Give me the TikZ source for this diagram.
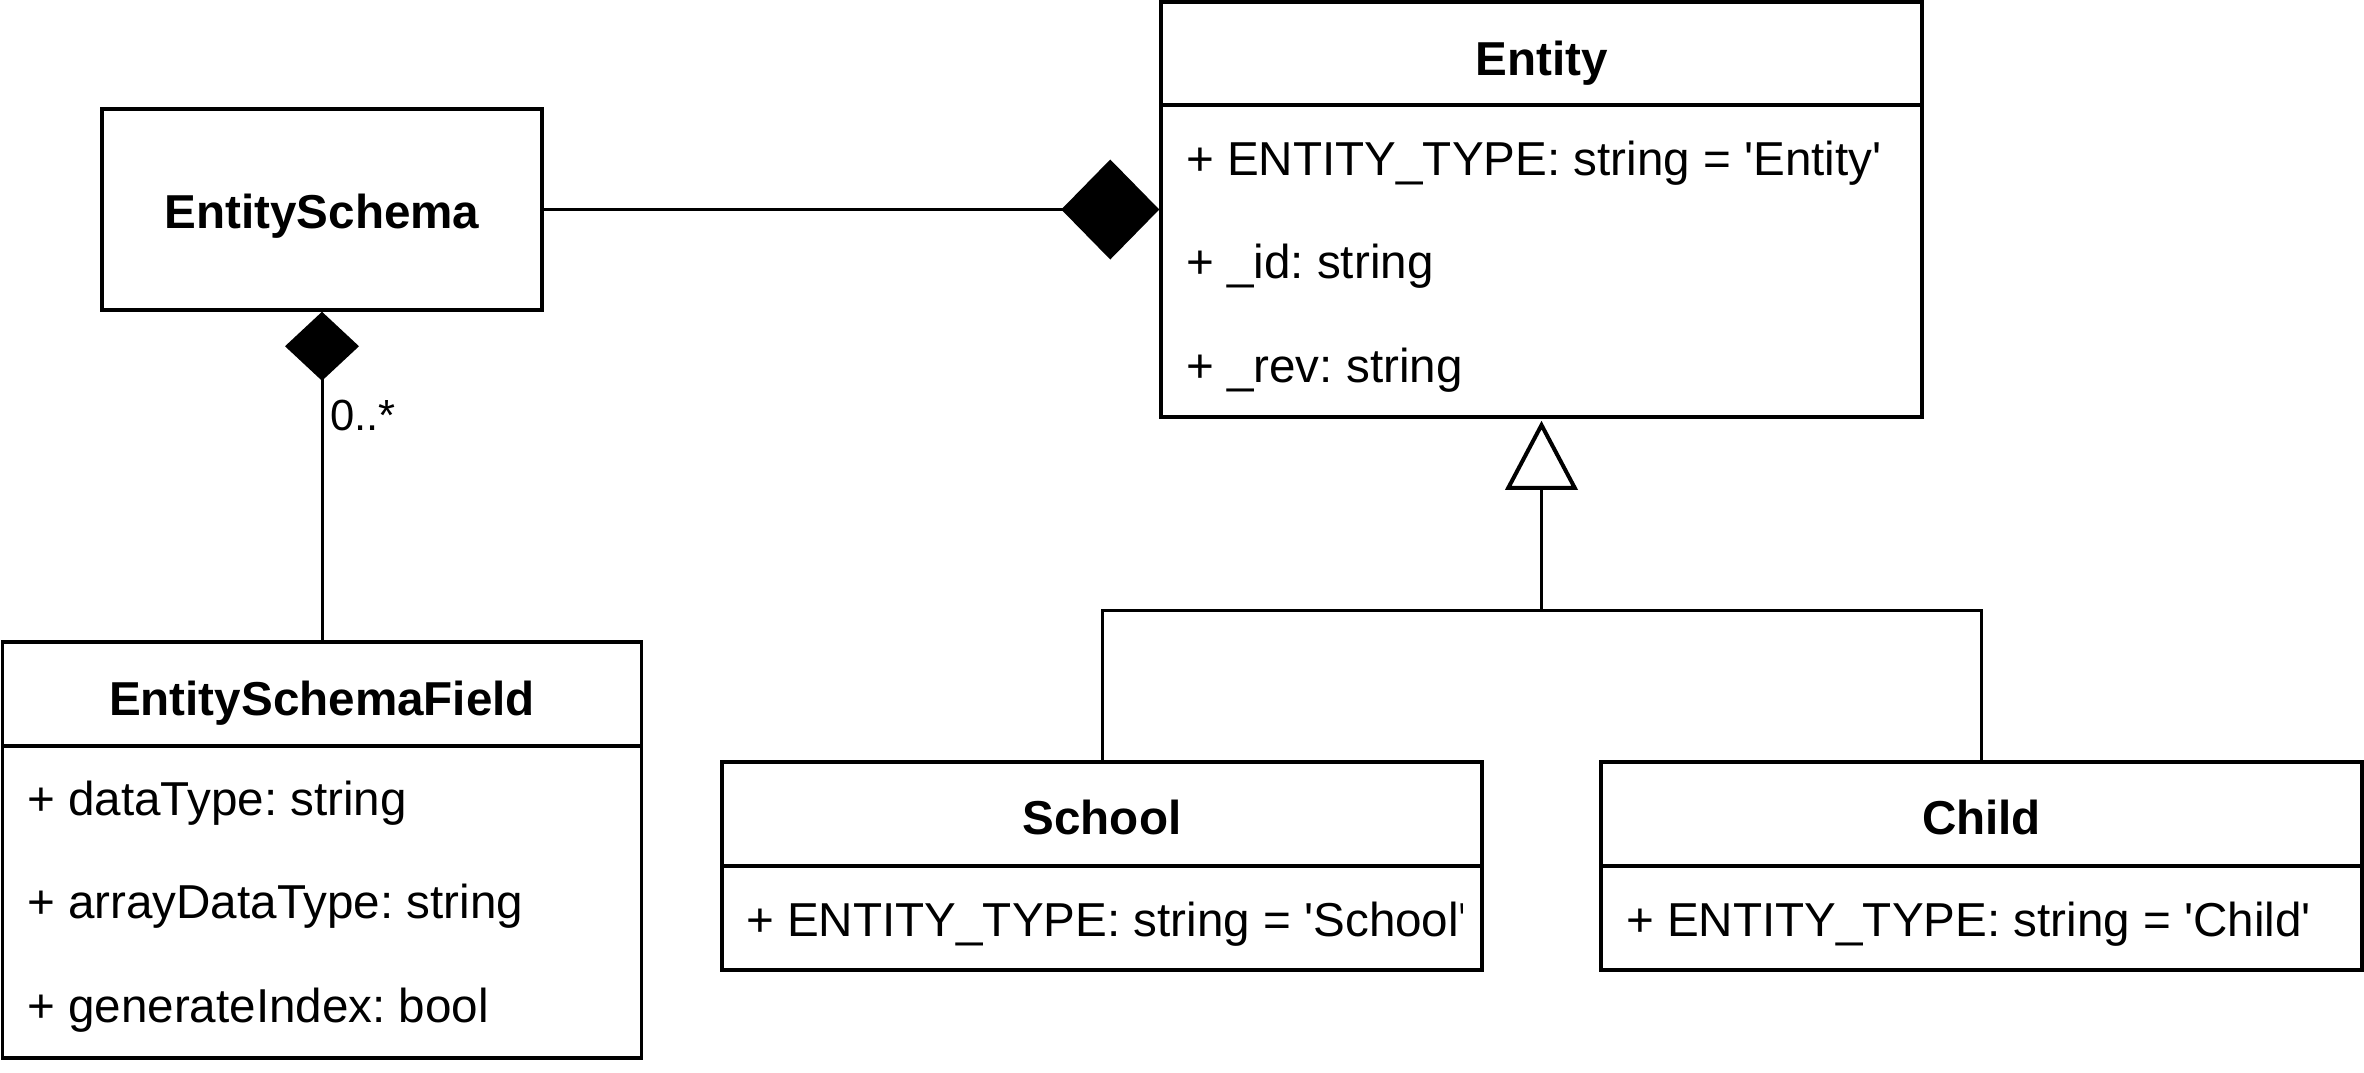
\documentclass[tikz,border=0pt]{standalone}
\usepackage{fontspec}
\setmainfont{Liberation Sans}
\usetikzlibrary{arrows.meta}
\newcommand\fsz{\fontsize{47.6pt}{57pt}\selectfont\frenchspacing}
\newcommand\fsl{\fontsize{43.6pt}{52pt}\selectfont}
\newcommand\sq{\textquotesingle}
\tikzset{
  boxline/.style={draw=black, line width=3.5pt},
  umlbox/.style={boxline, rectangle, inner sep=0pt, fill=white},
  hdrtext/.style={anchor=base, inner sep=0pt, font=\fsz\bfseries},
  attr/.style={anchor=base west, inner sep=0pt, font=\fsz},
  conn/.style={draw=black, line width=3pt},
}
\begin{document}
\begin{tikzpicture}[x=1pt,y=-1pt]
\useasboundingbox (0,0) rectangle (2364,1072);

% EntitySchema
\node[umlbox, minimum width=440pt, minimum height=201pt] (es) at (322,209.5) {};
\node[hdrtext] (estxt) at (322,228) {EntitySchema};

% Entity
\node[umlbox, minimum width=761pt, minimum height=103pt] (enth) at (1541.5,53.5) {};
\node[umlbox, minimum width=761pt, minimum height=312pt] (entb) at (1541.5,261) {};
\node[hdrtext] (enttxt) at (1541.5,75) {Entity};
\node[attr] (enta1) at (1186,175) {+ ENTITY\_TYPE: string = \sq Entity\sq};
\node[attr] (enta2) at (1186,278) {+ \_id: string};
\node[attr] (enta3) at (1186,382) {+ \_rev: string};

% EntitySchemaField
\node[umlbox, minimum width=639pt, minimum height=104pt] (esfh) at (322,694) {};
\node[umlbox, minimum width=639pt, minimum height=312pt] (esfb) at (322,902) {};
\node[hdrtext] (esftxt) at (322,715) {EntitySchemaField};
\node[attr] (esfa1) at (27,815) {+ dataType: string};
\node[attr] (esfa2) at (27,918) {+ arrayDataType: string};
\node[attr] (esfa3) at (27,1022) {+ generateIndex: bool};

% School
\node[umlbox, minimum width=760pt, minimum height=104pt] (schh) at (1102,814) {};
\node[umlbox, minimum width=760pt, minimum height=104pt] (schb) at (1102,918) {};
\node[hdrtext] (schtxt) at (1102,834) {School};
\begin{scope}
  \clip (722,866) rectangle (1462,970);
  \node[attr] (scha1) at (746,936) {+ ENTITY\_TYPE: string = \sq School\sq};
\end{scope}

% Child
\node[umlbox, minimum width=761pt, minimum height=104pt] (chh) at (1981.5,814) {};
\node[umlbox, minimum width=761pt, minimum height=104pt] (chb) at (1981.5,918) {};
\node[hdrtext] (chtxt) at (1981.5,834) {Child};
\node[attr] (cha1) at (1626,936) {+ ENTITY\_TYPE: string = \sq Child\sq};

% composition EntitySchema -> Entity
\draw[conn, -{Diamond[length=98pt,width=100pt]}] (es.east) -- (es.east -| entb.west);

% composition EntitySchemaField -> EntitySchema
\draw[conn, -{Diamond[length=69pt,width=74pt]}] (esfh.north) -- (es.south);
\node[anchor=base west, inner sep=0pt, font=\fsl] (mult) at (330,430) {0..*};

% generalization
\coordinate (jn) at (1541.5,610);
\draw[conn] (schh.north) |- (jn);
\draw[conn] (chh.north) |- (jn);
\draw[conn, -{Triangle[open, fill=white, length=69pt, width=72pt, line width=4pt]}] (jn) -- ([yshift=-2pt]entb.south);
\end{tikzpicture}
\end{document}
